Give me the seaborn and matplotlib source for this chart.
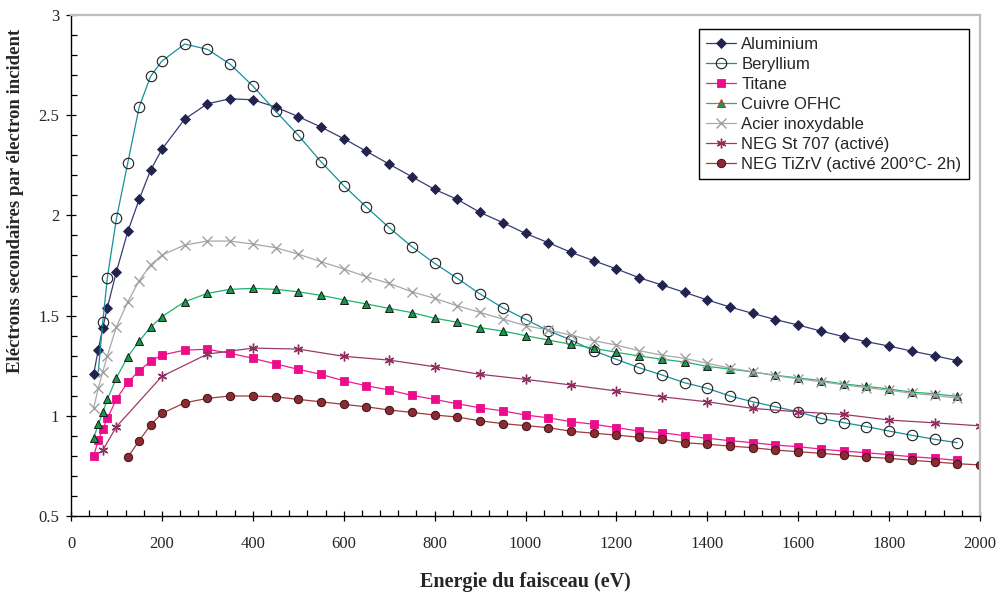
import matplotlib
matplotlib.use("Agg")
import matplotlib.pyplot as plt
import seaborn as sns
from matplotlib.ticker import MultipleLocator

sns.set_style("white")
plt.rcParams["font.family"] = ["Liberation Serif", "DejaVu Serif"]

# ---------------- data ----------------
al_x = [50, 60, 70, 80, 100, 125, 150, 175, 200, 250, 300, 350, 400, 450, 500, 550, 600, 650, 700,
        750, 800, 850, 900, 950, 1000, 1050, 1100, 1150, 1200, 1250, 1300, 1350, 1400, 1450, 1500,
        1550, 1600, 1650, 1700, 1750, 1800, 1850, 1900, 1950]
al_y = [1.21, 1.33, 1.44, 1.54, 1.72, 1.92, 2.08, 2.225, 2.33, 2.48, 2.557, 2.582, 2.577, 2.541, 2.493,
        2.441, 2.383, 2.32, 2.256, 2.193, 2.13, 2.08, 2.015, 1.964, 1.91, 1.864, 1.816, 1.774, 1.733,
        1.689, 1.653, 1.616, 1.578, 1.543, 1.511, 1.48, 1.453, 1.423, 1.395, 1.37, 1.348, 1.323, 1.30, 1.275]

be_x = [60, 70, 80, 100, 125, 150, 175, 200, 250, 300, 350, 400, 450, 500, 550, 600, 650, 700,
        750, 800, 850, 900, 950, 1000, 1050, 1100, 1150, 1200, 1250, 1300, 1350, 1400, 1450, 1500,
        1550, 1600, 1650, 1700, 1750, 1800, 1850, 1900, 1950]
be_y = [1.22, 1.47, 1.69, 1.985, 2.263, 2.541, 2.694, 2.77, 2.855, 2.829, 2.755, 2.646, 2.521, 2.40,
        2.268, 2.148, 2.042, 1.939, 1.844, 1.761, 1.686, 1.608, 1.539, 1.481, 1.425, 1.378, 1.325,
        1.282, 1.24, 1.204, 1.165, 1.137, 1.099, 1.07, 1.045, 1.02, 0.987, 0.966, 0.946, 0.924, 0.903,
        0.883, 0.866]

ti_x = al_x
ti_y = [0.80, 0.879, 0.934, 0.987, 1.084, 1.167, 1.225, 1.272, 1.303, 1.328, 1.332, 1.312, 1.287, 1.259,
        1.232, 1.207, 1.175, 1.15, 1.129, 1.102, 1.082, 1.06, 1.04, 1.025, 1.004, 0.99, 0.971, 0.958,
        0.941, 0.924, 0.916, 0.901, 0.888, 0.876, 0.866, 0.854, 0.846, 0.834, 0.824, 0.816, 0.806,
        0.796, 0.788, 0.778]

cu_x = al_x
cu_y = [0.891, 0.957, 1.017, 1.082, 1.19, 1.295, 1.373, 1.442, 1.495, 1.569, 1.611, 1.631, 1.636, 1.631,
        1.619, 1.601, 1.579, 1.558, 1.536, 1.515, 1.487, 1.467, 1.44, 1.423, 1.40, 1.378, 1.357, 1.337,
        1.317, 1.298, 1.283, 1.268, 1.247, 1.233, 1.219, 1.202, 1.189, 1.176, 1.159, 1.147, 1.134,
        1.118, 1.11, 1.097]

ac_x = al_x
ac_y = [1.04, 1.137, 1.22, 1.30, 1.445, 1.569, 1.674, 1.753, 1.802, 1.852, 1.872, 1.872, 1.857, 1.839,
        1.807, 1.769, 1.733, 1.694, 1.661, 1.619, 1.586, 1.549, 1.516, 1.483, 1.45, 1.428, 1.403, 1.375,
        1.353, 1.325, 1.303, 1.287, 1.262, 1.238, 1.22, 1.20, 1.185, 1.17, 1.155, 1.14, 1.128, 1.112,
        1.102, 1.088]

st_x = [70, 100, 200, 300, 400, 500, 600, 700, 800, 900, 1000, 1100, 1200, 1300, 1400, 1500, 1600,
        1700, 1800, 1900, 2000]
st_y = [0.829, 0.946, 1.197, 1.308, 1.338, 1.333, 1.297, 1.278, 1.245, 1.207, 1.182, 1.154, 1.124,
        1.095, 1.07, 1.037, 1.02, 1.007, 0.979, 0.965, 0.95]

tz_x = [125, 150, 175, 200, 250, 300, 350, 400, 450, 500, 550, 600, 650, 700, 750, 800, 850, 900,
        950, 1000, 1050, 1100, 1150, 1200, 1250, 1300, 1350, 1400, 1450, 1500, 1550, 1600, 1650,
        1700, 1750, 1800, 1850, 1900, 1950, 2000]
tz_y = [0.793, 0.876, 0.954, 1.012, 1.065, 1.087, 1.099, 1.099, 1.095, 1.082, 1.07, 1.057, 1.045, 1.029,
        1.017, 1.004, 0.994, 0.975, 0.961, 0.951, 0.941, 0.923, 0.913, 0.904, 0.893, 0.883, 0.866,
        0.858, 0.849, 0.841, 0.829, 0.821, 0.813, 0.804, 0.794, 0.788, 0.778, 0.77, 0.761, 0.755]

labels = ["Aluminium", "Beryllium", "Titane", "Cuivre OFHC", "Acier inoxydable",
          "NEG St 707 (activé)", "NEG TiZrV (activé 200°C- 2h)"]

# ---------------- figure ----------------
fig = plt.figure(figsize=(10, 5.93), dpi=100)
ax = fig.add_axes([0.071, 0.1298, 0.909, 0.8449])

common = dict(ax=ax, sort=False, errorbar=None, linewidth=0.9)

sns.lineplot(x=al_x, y=al_y, color="#3A3A78", marker="D", markersize=5,
             markerfacecolor="#23234F", markeredgecolor="#23234F", markeredgewidth=0.6,
             label=labels[0], **common)
sns.lineplot(x=be_x, y=be_y, color="#17909B", marker="o", markersize=7.5,
             markerfacecolor="none", markeredgecolor="#1E1E1E", markeredgewidth=0.8,
             markevery=list(range(1, len(be_x))),
             label=labels[1], **common)
sns.lineplot(x=ti_x, y=ti_y, color="#EE1C90", marker="s", markersize=6,
             markerfacecolor="#EC0C8C", markeredgecolor="#EC0C8C", markeredgewidth=0.6,
             label=labels[2], **common)
sns.lineplot(x=cu_x, y=cu_y, color="#1DB46C", marker="^", markersize=6,
             markerfacecolor="#15994A", markeredgecolor="#1A1A1A", markeredgewidth=0.7,
             label=labels[3], **common)
sns.lineplot(x=ac_x, y=ac_y, color="#A8A8A8", marker="x", markersize=7,
             markerfacecolor="#A0A0A0", markeredgecolor="#A0A0A0", markeredgewidth=1.0,
             label=labels[4], **common)
sns.lineplot(x=st_x, y=st_y, color="#9A3A6A", marker=(6, 2, 0), markersize=7,
             markerfacecolor="#8E2D5E", markeredgecolor="#8E2D5E", markeredgewidth=1.0,
             label=labels[5], **common)
sns.lineplot(x=tz_x, y=tz_y, color="#A23A3F", marker="o", markersize=6,
             markerfacecolor="#8C2932", markeredgecolor="#3A1515", markeredgewidth=0.7,
             label=labels[6], **common)

ax.set_xlim(0, 2000)
ax.set_ylim(0.5, 3)
ax.xaxis.set_major_locator(MultipleLocator(200))
ax.xaxis.set_minor_locator(MultipleLocator(40))
ax.yaxis.set_major_locator(MultipleLocator(0.5))
ax.yaxis.set_minor_locator(MultipleLocator(0.1))
ax.set_yticks([0.5, 1, 1.5, 2, 2.5, 3])
ax.set_yticklabels(["0.5", "1", "1.5", "2", "2.5", "3"])

ax.tick_params(axis="both", which="major", direction="inout", length=7, width=0.9,
               color="black", labelsize=12, bottom=True, left=True)
ax.tick_params(axis="x", which="major", pad=11)
ax.tick_params(axis="y", which="major", pad=5)
ax.tick_params(axis="both", which="minor", direction="in", length=4, width=0.9,
               color="black", bottom=True, left=True)

for s in ["left", "bottom"]:
    ax.spines[s].set_color("black")
    ax.spines[s].set_linewidth(1.0)
for s in ["top", "right"]:
    ax.spines[s].set_color("#BEBEBE")
    ax.spines[s].set_linewidth(1.6)

ax.set_xlabel("Energie du faisceau (eV)", fontsize=14.5, fontweight="bold", labelpad=14)
ax.set_ylabel("Eléctrons secondaires par électron incident", fontsize=13.5, fontweight="bold")
ax.yaxis.set_label_coords(-0.052, 0.629)

leg = ax.legend(loc="upper right", bbox_to_anchor=(0.988, 0.972), borderaxespad=0,
                frameon=True, fancybox=False, framealpha=1, edgecolor="black",
                prop={"family": ["Liberation Sans", "DejaVu Sans"], "size": 12},
                handlelength=1.8, handletextpad=0.3, labelspacing=0.3, borderpad=0.45)
leg.get_frame().set_linewidth(1.0)
handles = leg.legend_handles
handles[3].set_markeredgecolor("#E02020")

fig.savefig("out.png", dpi=100)
